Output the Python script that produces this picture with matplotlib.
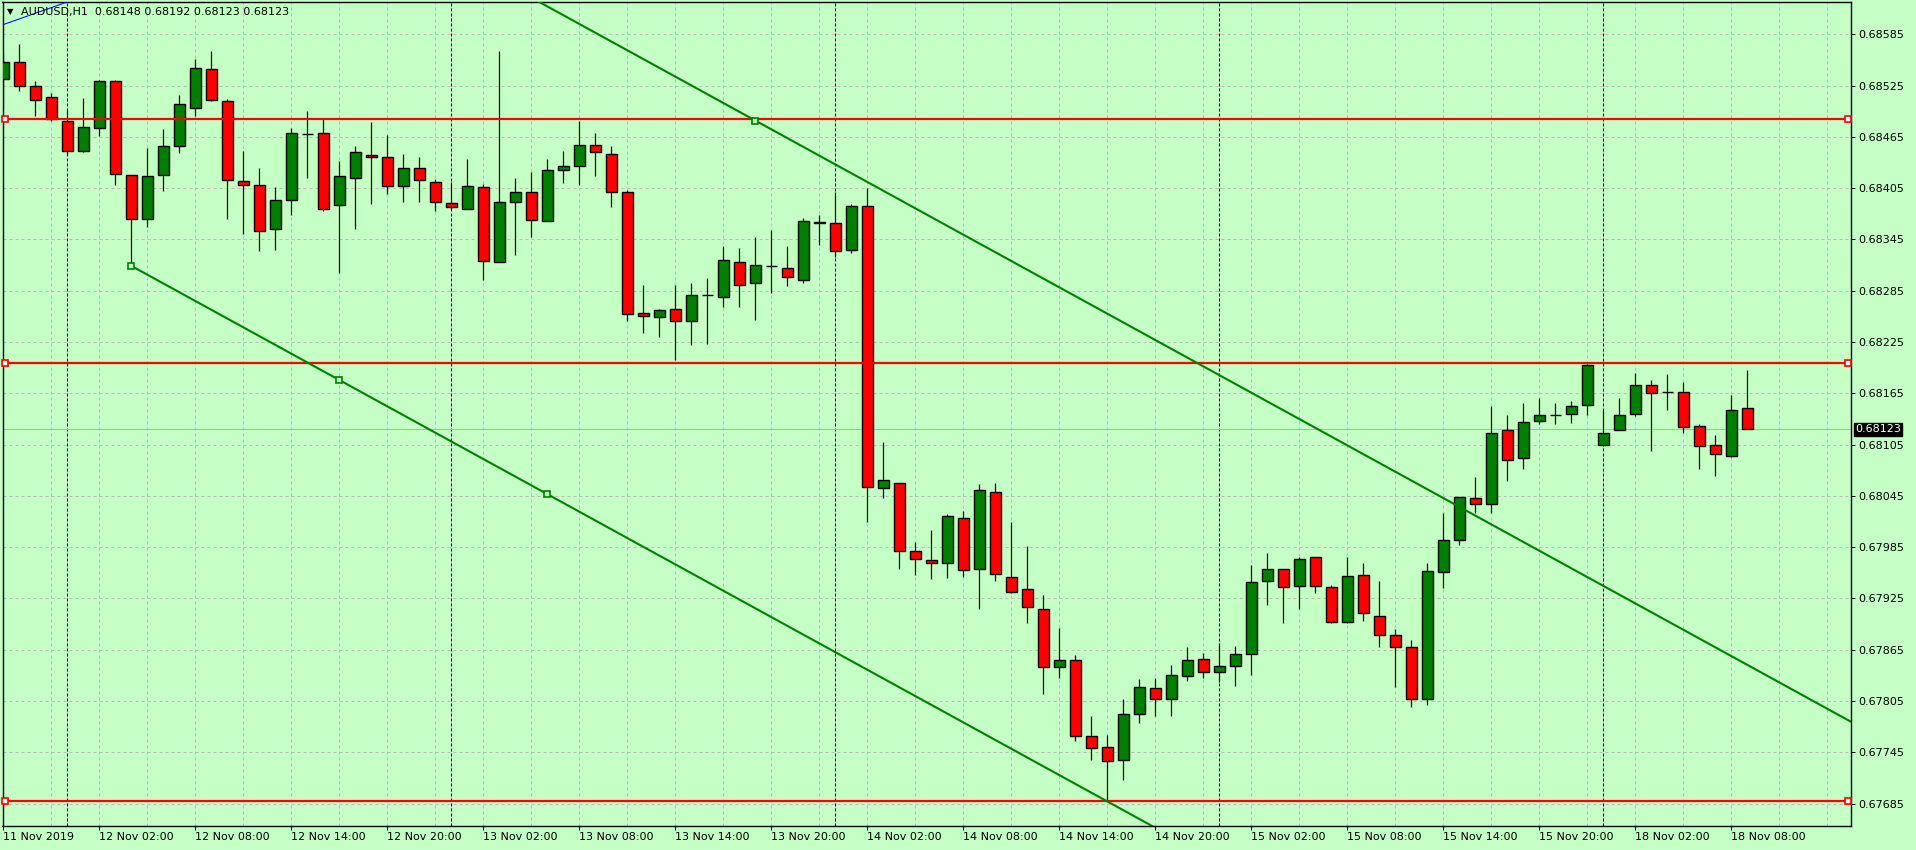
import matplotlib
matplotlib.use("Agg")
import matplotlib.pyplot as plt
import matplotlib.transforms as mtransforms
import numpy as np

SYMBOL = "AUDUSD,H1"

opens = [0.68533, 0.68553, 0.68524, 0.68511, 0.68483, 0.68448, 0.68475, 0.68530, 0.68420, 0.68369,
         0.68420, 0.68454, 0.68499, 0.68544, 0.68507, 0.68413, 0.68409, 0.68357, 0.68391, 0.68468,
         0.68469, 0.68385, 0.68417, 0.68444, 0.68441, 0.68407, 0.68429, 0.68412, 0.68388, 0.68381,
         0.68406, 0.68319, 0.68389, 0.68401, 0.68366, 0.68426, 0.68431, 0.68456, 0.68445, 0.68400,
         0.68259, 0.68254, 0.68264, 0.68249, 0.68280, 0.68278, 0.68319, 0.68294, 0.68314, 0.68312,
         0.68297, 0.68365, 0.68364, 0.68333, 0.68384, 0.68054, 0.68060, 0.67980, 0.67970, 0.67966,
         0.68019, 0.67959, 0.68049, 0.67950, 0.67936, 0.67913, 0.67845, 0.67853, 0.67764, 0.67751,
         0.67736, 0.67790, 0.67820, 0.67807, 0.67834, 0.67854, 0.67839, 0.67846, 0.67860, 0.67945,
         0.67959, 0.67940, 0.67973, 0.67939, 0.67897, 0.67952, 0.67905, 0.67882, 0.67868, 0.67807,
         0.67956, 0.67993, 0.68043, 0.68035, 0.68122, 0.68089, 0.68133, 0.68140, 0.68141, 0.68151,
         0.68105, 0.68122, 0.68141, 0.68175, 0.68167, 0.68167, 0.68127, 0.68104, 0.68092, 0.68148]
highs = [0.68562, 0.68573, 0.68530, 0.68516, 0.68496, 0.68510, 0.68532, 0.68532, 0.68420, 0.68452,
         0.68474, 0.68514, 0.68556, 0.68565, 0.68509, 0.68449, 0.68429, 0.68406, 0.68475, 0.68495,
         0.68487, 0.68437, 0.68454, 0.68482, 0.68467, 0.68445, 0.68441, 0.68416, 0.68412, 0.68439,
         0.68410, 0.68565, 0.68417, 0.68424, 0.68439, 0.68449, 0.68484, 0.68469, 0.68454, 0.68403,
         0.68292, 0.68264, 0.68292, 0.68294, 0.68300, 0.68337, 0.68335, 0.68348, 0.68356, 0.68337,
         0.68370, 0.68373, 0.68400, 0.68386, 0.68405, 0.68108, 0.68060, 0.67991, 0.68005, 0.68024,
         0.68027, 0.68059, 0.68060, 0.68014, 0.67986, 0.67929, 0.67890, 0.67859, 0.67788, 0.67765,
         0.67807, 0.67831, 0.67832, 0.67847, 0.67868, 0.67861, 0.67873, 0.67869, 0.67964, 0.67978,
         0.67960, 0.67973, 0.67973, 0.67941, 0.67973, 0.67966, 0.67945, 0.67889, 0.67876, 0.67966,
         0.68025, 0.68044, 0.68067, 0.68150, 0.68140, 0.68154, 0.68159, 0.68154, 0.68156, 0.68199,
         0.68146, 0.68159, 0.68189, 0.68180, 0.68188, 0.68178, 0.68129, 0.68116, 0.68163, 0.68192]
lows = [0.68497, 0.68519, 0.68489, 0.68483, 0.68445, 0.68447, 0.68466, 0.68409, 0.68314, 0.68360,
        0.68402, 0.68446, 0.68489, 0.68507, 0.68369, 0.68351, 0.68332, 0.68333, 0.68374, 0.68417,
        0.68378, 0.68306, 0.68357, 0.68387, 0.68398, 0.68389, 0.68389, 0.68378, 0.68381, 0.68380,
        0.68298, 0.68319, 0.68327, 0.68348, 0.68366, 0.68411, 0.68409, 0.68419, 0.68383, 0.68249,
        0.68236, 0.68231, 0.68204, 0.68221, 0.68223, 0.68266, 0.68266, 0.68251, 0.68282, 0.68291,
        0.68294, 0.68339, 0.68325, 0.68329, 0.68014, 0.68042, 0.67959, 0.67952, 0.67948, 0.67949,
        0.67950, 0.67913, 0.67946, 0.67931, 0.67896, 0.67813, 0.67832, 0.67758, 0.67736, 0.67689,
        0.67713, 0.67779, 0.67788, 0.67787, 0.67828, 0.67832, 0.67827, 0.67823, 0.67835, 0.67917,
        0.67896, 0.67913, 0.67931, 0.67896, 0.67896, 0.67899, 0.67868, 0.67822, 0.67798, 0.67801,
        0.67937, 0.67987, 0.68025, 0.68025, 0.68063, 0.68077, 0.68129, 0.68129, 0.68130, 0.68140,
        0.68105, 0.68122, 0.68139, 0.68097, 0.68146, 0.68119, 0.68077, 0.68068, 0.68090, 0.68123]
closes = [0.68552, 0.68524, 0.68508, 0.68486, 0.68449, 0.68476, 0.68530, 0.68421, 0.68369, 0.68419,
          0.68454, 0.68503, 0.68545, 0.68508, 0.68415, 0.68409, 0.68355, 0.68391, 0.68469, 0.68468,
          0.68381, 0.68419, 0.68447, 0.68441, 0.68407, 0.68428, 0.68415, 0.68389, 0.68383, 0.68408,
          0.68320, 0.68389, 0.68400, 0.68368, 0.68426, 0.68431, 0.68456, 0.68447, 0.68401, 0.68258,
          0.68255, 0.68263, 0.68250, 0.68280, 0.68280, 0.68321, 0.68292, 0.68315, 0.68314, 0.68301,
          0.68367, 0.68364, 0.68331, 0.68384, 0.68055, 0.68064, 0.67981, 0.67971, 0.67966, 0.68021,
          0.67958, 0.68052, 0.67954, 0.67933, 0.67915, 0.67845, 0.67853, 0.67764, 0.67750, 0.67735,
          0.67790, 0.67821, 0.67807, 0.67835, 0.67853, 0.67839, 0.67846, 0.67860, 0.67944, 0.67959,
          0.67939, 0.67971, 0.67940, 0.67897, 0.67951, 0.67908, 0.67882, 0.67868, 0.67808, 0.67957,
          0.67994, 0.68044, 0.68035, 0.68119, 0.68087, 0.68132, 0.68140, 0.68140, 0.68150, 0.68198,
          0.68119, 0.68140, 0.68175, 0.68165, 0.68167, 0.68126, 0.68103, 0.68094, 0.68146, 0.68123]

# x axis labels (bar index -> text)
time_label_bars = [0, 6, 12, 18, 24, 30, 36, 42, 48, 54, 60, 66, 72, 78, 84, 90, 96, 102, 108]
time_labels = ["11 Nov 2019", "12 Nov 02:00", "12 Nov 08:00", "12 Nov 14:00", "12 Nov 20:00",
               "13 Nov 02:00", "13 Nov 08:00", "13 Nov 14:00", "13 Nov 20:00", "14 Nov 02:00",
               "14 Nov 08:00", "14 Nov 14:00", "14 Nov 20:00", "15 Nov 02:00", "15 Nov 08:00",
               "15 Nov 14:00", "15 Nov 20:00", "18 Nov 02:00", "18 Nov 08:00"]
day_start_bars = [4, 28, 52, 76, 100]

price_ticks = [0.67685, 0.67745, 0.67805, 0.67865, 0.67925, 0.67985, 0.68045, 0.68105,
               0.68165, 0.68225, 0.68285, 0.68345, 0.68405, 0.68465, 0.68525, 0.68585]

# drawn objects
hlines_levels = [0.68486, 0.68200, 0.67688]
lower_trend = [(8, 0.68314), (34, 0.68047)]
upper_trend = [(47, 0.68484), (73, 0.68217)]
blue_trend = [(-0.05, 0.68596), (3.73, 0.68621)]

BG = "#c5ffc5"
BULL = "#008000"
BEAR = "#ff0000"
GRID = "#bdb6bd"
PX = 0.72  # one pixel in points at dpi 100

fig = plt.figure(figsize=(19.16, 8.5), dpi=100, facecolor=BG)
W, H = 1916, 850
ax = fig.add_axes([2.5 / W, (H - 826) / H, (1851 - 2.5) / W, (826 - 2) / H])
ax.set_facecolor(BG)
ax.set_xlim(-0.056, 115.475)
ax.set_ylim(0.676589, 0.686227)

bars = np.arange(len(opens))
o = np.array(opens)
c = np.array(closes)
hi = np.array(highs)
lo = np.array(lows)

# grid
for p in price_ticks:
    ax.axhline(p, color=GRID, lw=PX, ls=(0, (3, 3)), zorder=0)
for b in range(0, 116, 3):
    ax.axvline(b, color=GRID, lw=PX, ls=(0, (3, 3)), zorder=0)
for b in day_start_bars:
    ax.axvline(b, color="black", lw=PX, ls=(0, (3, 2)), zorder=1)

# bid line
ax.axhline(closes[-1], color="#b4b4b4", lw=PX, zorder=1)

# candles
ax.vlines(bars, lo, hi, color="black", lw=PX * 1.2, zorder=3)
colors = [BULL if cc > oo else BEAR for oo, cc in zip(o, c)]
ax.bar(bars, np.abs(c - o), bottom=np.minimum(o, c), width=0.66, color=colors,
       edgecolor="black", linewidth=PX * 1.4, zorder=4)

# horizontal lines
blend = mtransforms.blended_transform_factory(ax.transAxes, ax.transData)
for lvl in hlines_levels:
    ax.axhline(lvl, color="#ff0000", lw=1.6, zorder=5)
    ax.plot([0.0015, 0.9985], [lvl, lvl], ls="none", marker="s", ms=4, mfc="white",
            mec="#ff0000", mew=1.2, transform=blend, zorder=6, clip_on=False)

# trend lines
def trend(points, x0, x1):
    (xa, ya), (xb, yb) = points
    k = (yb - ya) / (xb - xa)
    return [x0, x1], [ya + k * (x0 - xa), ya + k * (x1 - xa)]

xs, ys = trend(lower_trend, lower_trend[0][0], 130)
ax.plot(xs, ys, color=BULL, lw=1.5, zorder=5)
mid = (lower_trend[0][0] + lower_trend[1][0]) / 2
_, ym = trend(lower_trend, mid, mid)
ax.plot([lower_trend[0][0], mid, lower_trend[1][0]], [lower_trend[0][1], ym[0], lower_trend[1][1]],
        ls="none", marker="s", ms=4, mfc=BG, mec=BULL, mew=1.2, zorder=6)

xs, ys = trend(upper_trend, 20, 130)
ax.plot(xs, ys, color=BULL, lw=1.5, zorder=5)
ax.plot([upper_trend[0][0]], [upper_trend[0][1]], ls="none", marker="s", ms=4, mfc=BG,
        mec=BULL, mew=1.2, zorder=6)

xs, ys = trend(blue_trend, -1, 6)
ax.plot(xs, ys, color="#0000ff", lw=PX, zorder=5)

# axes look
for s in ax.spines.values():
    s.set_color("black")
    s.set_linewidth(1.0)
ax.yaxis.tick_right()
ax.set_yticks(price_ticks)
ax.set_yticklabels([f"{p:.5f}" for p in price_ticks])
ax.set_xticks(time_label_bars)
ax.set_xticklabels(time_labels, ha="left")
ax.tick_params(axis="both", direction="out", length=3, width=PX, colors="black", labelsize=8)
ax.tick_params(axis="y", pad=2.5)
ax.tick_params(axis="x", pad=1.0)
for lab in ax.get_xticklabels():
    lab.set_horizontalalignment("left")
    lab.set_x(lab.get_position()[0])

# current price box
ax.text(1.0022, closes[-1], f"{closes[-1]:.5f}", transform=blend, color="white", fontsize=8,
        va="center", ha="left", zorder=10, clip_on=False,
        bbox=dict(boxstyle="square,pad=0.12", fc="black", ec="black"))

# header
fig.text(7 / W, 1 - 12 / H, "\u25bc", fontsize=6, va="center", ha="left", color="black")
header = f"{SYMBOL}  {opens[-1]:.5f} {highs[-1]:.5f} {lows[-1]:.5f} {closes[-1]:.5f}"
fig.text(21 / W, 1 - 12 / H, header, fontsize=8, va="center", ha="left", color="black")

fig.savefig("out.png", dpi=100, facecolor=BG)
